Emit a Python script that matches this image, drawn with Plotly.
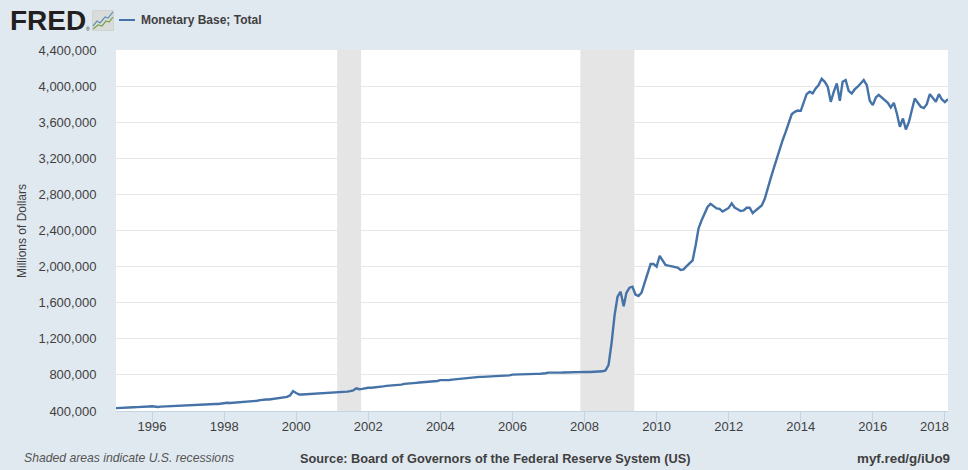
import numpy as np
import pandas as pd
import plotly.graph_objects as go

# monthly values, thousands of millions of dollars
y1995 = [432, 435, 438, 440, 441, 442, 442, 443, 443, 444, 447, 450]
y1996 = [452, 447, 445, 448, 450, 451, 452, 455, 456, 457, 458, 460]
y1997 = [466, 464, 463, 464, 467, 469, 471, 473, 475, 477, 478, 482]
y1998 = [492, 491, 489, 491, 493, 495, 497, 500, 502, 505, 508, 513]
y1999 = [520, 526, 527, 528, 533, 538, 541, 545, 550, 556, 574, 621]
y2000 = [600, 583, 583, 585, 587, 588, 589, 590, 590, 592, 596, 604]
y2001 = [604, 604, 606, 609, 612, 615, 620, 628, 652, 641, 645, 654]
y2002 = [657, 658, 660, 665, 669, 673, 678, 680, 682, 683, 685, 692]
y2003 = [700, 701, 705, 708, 712, 715, 718, 720, 722, 724, 727, 733]
y2004 = [742, 741, 741, 744, 748, 752, 757, 760, 764, 767, 770, 776]
y2005 = [782, 778, 778, 779, 781, 783, 784, 786, 788, 790, 792, 795]
y2006 = [803, 805, 807, 809, 811, 812, 811, 811, 811, 811, 812, 818]
y2007 = [825, 823, 822, 823, 825, 827, 828, 829, 829, 830, 832, 838]
y2008 = [835, 833, 832, 832, 833, 834, 840, 850, 910, 1150, 1463, 1666]
y2009 = [1722, 1560, 1710, 1766, 1777, 1690, 1674, 1711, 1818, 1943, 2028, 2028]
y2010 = [2000, 2120, 2073, 2018, 2010, 2005, 2000, 1990, 1962, 1970, 2005, 2040]
y2011 = [2070, 2240, 2420, 2510, 2590, 2660, 2695, 2665, 2645, 2640, 2610, 2630]
y2012 = [2650, 2700, 2655, 2635, 2615, 2622, 2652, 2652, 2593, 2622, 2652, 2678]
y2013 = [2752, 2881, 2974, 3085, 3196, 3288, 3400, 3492, 3584, 3688, 3714, 3729]
y2014 = [3726, 3837, 3911, 3937, 3919, 3974, 4011, 4081, 4048, 3993, 3826, 3937]
y2015 = [4030, 3837, 4048, 4067, 3948, 3919, 3963, 3993, 4030, 4067, 4011, 3837]
y2016 = [3789, 3874, 3904, 3874, 3837, 3815, 3763, 3815, 3697, 3549, 3641, 3519]
y2017 = [3604, 3752, 3863, 3815, 3771, 3756, 3800, 3911, 3874, 3826, 3911, 3852]
y2018 = [3822, 3856]

years = [y1995, y1996, y1997, y1998, y1999, y2000, y2001, y2002, y2003, y2004, y2005, y2006,
         y2007, y2008, y2009, y2010, y2011, y2012, y2013, y2014, y2015, y2016, y2017, y2018]
values = np.concatenate(years) * 1000
dates = pd.date_range("1995-01-01", periods=len(values), freq="MS")

recessions = [("2001-02-20", "2001-10-20"), ("2007-11-20", "2009-05-20")]
x_ticks = ["%d-01-01" % y for y in range(1996, 2020, 2)]
x_labels = [str(y) for y in range(1996, 2018, 2)] + [""]
y_ticks = list(range(400000, 4800000, 400000))

series_name = "Monetary Base; Total"
y_title = "Millions of Dollars"
note = "Shaded areas indicate U.S. recessions"
source = "Source: Board of Governors of the Federal Reserve System (US)"
short_url = "myf.red/g/iUo9"

W, H = 968, 470
L, R, T, B = 116, 20, 50, 59
BG = "#e1e9f0"
LINE = "#4572a7"
TXT = "#3f3f3f"
AXIS = "#c5d3e4"
FONT = "Liberation Sans"


def px(x):
    return (x - L) / (W - L - R)


def py(y):
    return 1 - (y - T) / (H - T - B)


def label(x, y, text, size=12, anchor="left", color=TXT, family=FONT, angle=0):
    return dict(x=px(x), y=py(y), xref="paper", yref="paper", text=text, showarrow=False,
                xanchor=anchor, yanchor="middle", textangle=angle,
                font=dict(size=size, color=color, family=family), borderpad=0, borderwidth=0)


def polyline(points, color, width):
    d = "M" + " L".join("%.4f,%.4f" % (px(a), py(b)) for a, b in points)
    return dict(type="path", path=d, xref="paper", yref="paper", layer="above",
                line=dict(color=color, width=width))


fig = go.Figure(go.Scatter(x=dates, y=values, mode="lines", name=series_name,
                           line=dict(color=LINE, width=2.4)))

shapes = [dict(type="rect", xref="x", yref="paper", x0=a, x1=b, y0=0, y1=1, layer="below",
               fillcolor="#e5e5e5", line_width=0) for a, b in recessions]

# legend sample and logo icon
shapes.append(dict(type="line", xref="paper", yref="paper", x0=px(119), x1=px(135), y0=py(20), y1=py(20),
                   line=dict(color=LINE, width=2)))
shapes.append(dict(type="rect", xref="paper", yref="paper", x0=px(92.5), x1=px(113.5), y0=py(10.5), y1=py(30.5),
                   fillcolor="#d9dcd8", line=dict(color="#cfd4d2", width=1), layer="above"))
shapes.append(polyline([(93, 26), (97, 21), (100, 23), (105, 17), (108, 18), (113, 12)], "#5f8fb5", 1.2))
shapes.append(polyline([(93, 29), (98, 25), (102, 26), (106, 21), (109, 22), (113, 17)], "#7fa24f", 1.2))

annotations = [
    label(10, 20.5, "<b>FRED</b>", size=28, color="#231f20"),
    label(86, 29.5, "®", size=5, color="#231f20"),
    label(141, 20, "<b>" + series_name + "</b>", size=12),
    label(22, 231, y_title, size=12, anchor="center", angle=-90),
    label(24, 458, "<i>" + note + "</i>", size=12.2, color="#555555"),
    label(300, 458, "<b>" + source + "</b>", size=12.75),
    label(950, 458, "<b>" + short_url + "</b>", size=13.4, anchor="right"),
    label(934, 426, "2018", size=13, anchor="center"),
]

fig.update_layout(
    width=W, height=H, autosize=False,
    margin=dict(l=L, r=R, t=T, b=B, pad=0),
    paper_bgcolor=BG, plot_bgcolor="#ffffff",
    showlegend=False,
    font=dict(family=FONT, color=TXT, size=13),
    shapes=shapes, annotations=annotations,
    xaxis=dict(range=["1995-01-01", "2018-02-01"], tickmode="array", tickvals=x_ticks, ticktext=x_labels,
               showgrid=False, ticks="outside", ticklen=10, tickwidth=1, tickcolor=AXIS,
               ticklabelstandoff=-7,
               showline=True, linecolor=AXIS, linewidth=1, tickfont=dict(size=13), zeroline=False),
    yaxis=dict(range=[400000, 4400000], tickmode="array", tickvals=y_ticks,
               ticktext=[f"{v:,}" for v in y_ticks], gridcolor="#e6e6e6", gridwidth=1,
               ticks="outside", ticklen=16, tickcolor="rgba(0,0,0,0)", showline=False,
               zeroline=False, tickfont=dict(size=13)),
)

fig.write_html("out.html", post_script="document.body.style.margin='0';",
               config=dict(displayModeBar=False))
